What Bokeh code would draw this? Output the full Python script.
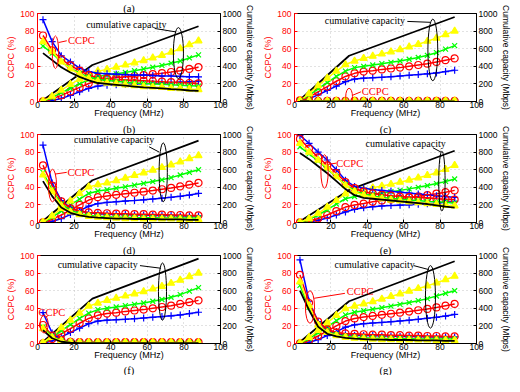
import math
from bokeh.plotting import figure
from bokeh.models import Range1d, LinearAxis, Label, Title
from bokeh.layouts import column, row
from bokeh.embed import file_html
from bokeh.resources import INLINE

# ---------------- data ----------------
FREQ = [3, 8, 13, 18, 23, 28, 33, 38, 43, 48, 53, 58, 63, 68, 73, 78, 83, 88]
KNEE_FREQ = [2, 30, 88]
X_TICKS = [0, 20, 40, 60, 80, 100]
CCPC_TICKS = [0, 20, 40, 60, 80, 100]
CAP_TICKS = [0, 200, 400, 600, 800, 1000]
CAPTIONS = ["(b)", "(c)", "(d)", "(e)", "(f)", "(g)"]

# panel (b)
b_cap_black = [0, 415, 855]
b_cap_yellow = [5, 60, 130, 195, 255, 310, 345, 365, 390, 415, 440, 465, 495, 525, 560, 600, 645, 690]
b_cap_green = [3, 45, 100, 150, 200, 250, 285, 300, 315, 330, 350, 370, 390, 410, 435, 460, 495, 530]
b_cap_red = [2, 30, 70, 115, 160, 205, 240, 260, 270, 280, 290, 300, 310, 322, 335, 350, 370, 390]
b_cap_blue = [0, 10, 35, 70, 110, 150, 175, 185, 190, 195, 198, 202, 206, 210, 215, 220, 225, 230]
b_ccpc_blue = [93, 68, 52, 45, 38, 34, 32, 31.5, 31, 30.5, 30, 30, 29.5, 29, 29, 28.5, 28, 28]
b_ccpc_red = [75, 58, 48, 41, 35, 30, 27, 26, 25, 24.5, 24, 23.5, 23, 22.5, 22, 21.5, 21, 20.5]
b_ccpc_green = [63, 55, 45, 38, 32, 28, 25, 24, 23, 22, 21, 20.5, 20, 19.5, 19, 18.5, 18, 17.5]
b_ccpc_yellow = [68, 57, 45, 37, 31, 26, 23, 21, 20, 19, 18, 17, 16.5, 16, 15, 14.5, 14, 13.5]
b_ccpc_black = [55, 47, 39, 33, 28, 24, 21, 20, 19, 18, 17, 16, 15.5, 15, 14, 13.5, 12.5, 12]

# panel (c)
c_cap_black = [0, 520, 960]
c_cap_yellow = [8, 90, 180, 265, 345, 420, 460, 490, 515, 540, 565, 590, 620, 650, 685, 720, 760, 800]
c_cap_green = [5, 70, 145, 215, 285, 345, 385, 400, 415, 430, 445, 460, 480, 500, 525, 555, 595, 635]
c_cap_red = [3, 50, 110, 170, 230, 285, 320, 340, 350, 365, 375, 385, 400, 415, 430, 450, 470, 490]
c_cap_blue = [0, 30, 75, 125, 175, 225, 255, 265, 270, 275, 282, 290, 298, 306, 315, 325, 340, 355]
c_ccpc_blue = [1.5, 0.8, 0.6, 0.6, 0.6, 0.6, 0.6, 0.6, 0.6, 0.6, 0.6, 0.6, 0.6, 0.6, 0.6, 0.6, 0.6, 0.6]
c_ccpc_red = [1.2, 0.8, 0.7, 0.7, 0.7, 0.7, 0.7, 0.7, 0.7, 0.7, 0.7, 0.7, 0.7, 0.7, 0.7, 0.7, 0.7, 0.7]
c_ccpc_green = [1.0, 0.6, 0.5, 0.5, 0.5, 0.5, 0.5, 0.5, 0.5, 0.5, 0.5, 0.5, 0.5, 0.5, 0.5, 0.5, 0.5, 0.5]
c_ccpc_yellow = [1.0, 0.7, 0.7, 0.7, 0.7, 0.7, 0.7, 0.7, 0.7, 0.7, 0.7, 0.7, 0.7, 0.7, 0.7, 0.7, 0.7, 0.7]
c_ccpc_black = [0.5, 0.3, 0.2, 0.2, 0.2, 0.2, 0.2, 0.2, 0.2, 0.2, 0.2, 0.2, 0.2, 0.2, 0.2, 0.2, 0.2, 0.2]

# panel (d)
d_cap_black = [0, 480, 930]
d_cap_yellow = [5, 75, 160, 245, 330, 405, 430, 450, 475, 505, 535, 565, 595, 625, 655, 690, 725, 760]
d_cap_green = [3, 60, 130, 200, 265, 330, 358, 373, 390, 405, 425, 445, 465, 485, 510, 540, 570, 600]
d_cap_red = [2, 35, 85, 140, 200, 255, 288, 302, 314, 326, 338, 350, 363, 378, 393, 410, 430, 450]
d_cap_blue = [0, 12, 45, 90, 135, 185, 215, 228, 236, 243, 250, 258, 267, 276, 286, 298, 312, 330]
d_ccpc_blue = [88, 45, 25, 17, 13, 11, 10, 9.5, 9, 9, 8.5, 8.5, 8, 8, 8, 7.5, 7.5, 7.5]
d_ccpc_red = [65, 42, 24, 16, 13, 11.5, 11, 10.5, 10, 10, 9.5, 9.5, 9, 9, 8.5, 8.5, 8, 8]
d_ccpc_green = [57, 37, 21, 14, 10, 8, 7, 6.5, 6, 6, 5.5, 5.5, 5.5, 5, 5, 5, 5, 5]
d_ccpc_yellow = [54, 35, 19, 12, 9, 7, 6, 5.5, 5, 4.5, 4.5, 4, 4, 4, 4, 3.5, 3.5, 3.5]
d_ccpc_black = [47, 30, 17, 11, 8, 6.5, 5.5, 5, 4.5, 4.5, 4, 4, 4, 3.5, 3.5, 3.5, 3, 3]

# panel (e)
e_cap_black = [0, 370, 815]
e_cap_yellow = [3, 45, 105, 175, 250, 325, 358, 375, 395, 415, 435, 458, 482, 508, 535, 565, 605, 650]
e_cap_green = [2, 35, 85, 145, 210, 270, 295, 310, 322, 335, 350, 365, 382, 400, 420, 442, 467, 495]
e_cap_red = [1, 15, 45, 85, 130, 175, 200, 215, 235, 250, 262, 272, 285, 298, 312, 328, 345, 365]
e_cap_blue = [0, 5, 25, 50, 85, 120, 150, 168, 180, 188, 193, 197, 201, 206, 212, 220, 230, 240]
e_ccpc_blue = [99, 90, 80, 71, 60, 48, 41, 39, 37.5, 36.5, 35.5, 34.5, 33.5, 32.5, 31.5, 30.5, 29.5, 28.5]
e_ccpc_red = [95, 84, 74, 65, 56, 46, 39, 35, 33, 31.5, 30.5, 29.5, 29, 28.5, 28, 27, 26.5, 26]
e_ccpc_green = [86, 78, 70, 61, 52, 43, 36, 32, 30, 28.5, 27.5, 26.5, 25.5, 25, 24, 23.5, 23, 22]
e_ccpc_yellow = [90, 80, 71, 62, 52, 42, 35, 31, 29, 27, 25.5, 24.5, 23.5, 22.5, 21.5, 20.5, 19.5, 19]
e_ccpc_black = [79, 72, 64, 56, 47, 38, 31, 28, 27, 26, 25, 24, 23, 22, 21, 19.5, 18, 17]

# panel (f)
f_cap_black = [0, 510, 965]
f_cap_yellow = [8, 90, 180, 265, 345, 425, 460, 490, 515, 540, 565, 590, 620, 650, 685, 720, 760, 800]
f_cap_green = [5, 70, 145, 215, 285, 345, 385, 400, 415, 430, 445, 460, 480, 500, 525, 555, 595, 635]
f_cap_red = [3, 50, 110, 170, 230, 285, 320, 340, 350, 365, 375, 385, 400, 415, 430, 450, 470, 490]
f_cap_blue = [0, 30, 75, 125, 175, 225, 255, 265, 270, 275, 282, 290, 298, 306, 315, 325, 340, 355]
f_ccpc_blue = [35, 12, 4, 2.5, 2, 1.5, 1.5, 1.5, 1, 1, 1, 1, 1, 1, 1, 1, 1, 1]
f_ccpc_red = [21, 9, 3.5, 2, 1.5, 1.5, 1.5, 1.5, 1.5, 1.5, 1.5, 1.5, 1.5, 1.5, 1.5, 1.5, 1.5, 1.5]
f_ccpc_green = [19, 8, 3, 1.5, 1, 1, 1, 1, 1, 1, 1, 1, 1, 1, 1, 1, 1, 1]
f_ccpc_yellow = [17, 7, 3, 1.5, 1.2, 1.2, 1.2, 1.2, 1.2, 1.2, 1.2, 1.2, 1.2, 1.2, 1.2, 1.2, 1.2, 1.2]
f_ccpc_black = [15, 6, 2, 1, 0.5, 0.5, 0.5, 0.5, 0.5, 0.5, 0.5, 0.5, 0.5, 0.5, 0.5, 0.5, 0.5, 0.5]

# panel (g)
g_cap_black = [0, 480, 935]
g_cap_yellow = [5, 70, 150, 235, 320, 395, 425, 450, 475, 505, 535, 565, 595, 625, 655, 690, 725, 765]
g_cap_green = [3, 55, 120, 190, 260, 325, 355, 372, 390, 407, 425, 445, 465, 487, 510, 540, 570, 600]
g_cap_red = [2, 35, 85, 140, 200, 255, 285, 300, 313, 326, 338, 350, 363, 378, 393, 410, 430, 450]
g_cap_blue = [0, 12, 45, 90, 135, 185, 212, 225, 233, 240, 248, 256, 265, 275, 286, 298, 312, 330]
g_ccpc_blue = [95, 48, 25, 15, 11, 10, 9.5, 9, 9, 8.5, 8.5, 8, 8, 8, 7.5, 7.5, 7.5, 7.5]
g_ccpc_red = [78, 46, 25, 16, 12.5, 11.5, 11, 10.5, 10, 10, 9.5, 9.5, 9, 9, 8.5, 8.5, 8, 8]
g_ccpc_green = [66, 41, 21, 13, 10, 8, 7, 6.5, 6, 6, 5.5, 5.5, 5.5, 5, 5, 5, 5, 5]
g_ccpc_yellow = [70, 43, 21, 12.5, 9, 7, 6, 5.5, 5, 4.5, 4.5, 4, 4, 4, 4, 3.5, 3.5, 3.5]
g_ccpc_black = [60, 38, 19, 11, 8, 6.5, 5.5, 5, 4.5, 4.5, 4, 4, 4, 3.5, 3.5, 3.5, 3, 3]

PANEL_DATA = [
    dict(cap_black=b_cap_black, cap=dict(blue=b_cap_blue, red=b_cap_red, green=b_cap_green, yellow=b_cap_yellow),
         ccpc=dict(blue=b_ccpc_blue, red=b_ccpc_red, green=b_ccpc_green, yellow=b_ccpc_yellow), ccpc_black=b_ccpc_black),
    dict(cap_black=c_cap_black, cap=dict(blue=c_cap_blue, red=c_cap_red, green=c_cap_green, yellow=c_cap_yellow),
         ccpc=dict(blue=c_ccpc_blue, red=c_ccpc_red, green=c_ccpc_green, yellow=c_ccpc_yellow), ccpc_black=c_ccpc_black),
    dict(cap_black=d_cap_black, cap=dict(blue=d_cap_blue, red=d_cap_red, green=d_cap_green, yellow=d_cap_yellow),
         ccpc=dict(blue=d_ccpc_blue, red=d_ccpc_red, green=d_ccpc_green, yellow=d_ccpc_yellow), ccpc_black=d_ccpc_black),
    dict(cap_black=e_cap_black, cap=dict(blue=e_cap_blue, red=e_cap_red, green=e_cap_green, yellow=e_cap_yellow),
         ccpc=dict(blue=e_ccpc_blue, red=e_ccpc_red, green=e_ccpc_green, yellow=e_ccpc_yellow), ccpc_black=e_ccpc_black),
    dict(cap_black=f_cap_black, cap=dict(blue=f_cap_blue, red=f_cap_red, green=f_cap_green, yellow=f_cap_yellow),
         ccpc=dict(blue=f_ccpc_blue, red=f_ccpc_red, green=f_ccpc_green, yellow=f_ccpc_yellow), ccpc_black=f_ccpc_black),
    dict(cap_black=g_cap_black, cap=dict(blue=g_cap_blue, red=g_cap_red, green=g_cap_green, yellow=g_cap_yellow),
         ccpc=dict(blue=g_ccpc_blue, red=g_ccpc_red, green=g_ccpc_green, yellow=g_ccpc_yellow), ccpc_black=g_ccpc_black),
]

# ---------------- styles / annotation placement ----------------
COLORS = dict(blue="#0000ff", red="#ff0000", green="#00ff00", yellow="#ffff00")
MARKERS = dict(blue="cross", red="circle", green="x", yellow="triangle")
ORDER = ["blue", "red", "green", "yellow"]

# (text x, text y, leader x0,y0,x1,y1, ellipse cx,cy,w,h)
ANN_CUM = [
    (26.6, 88, 64, 83, 75.8, 79, 77, 55, 5.5, 58),
    (16.6, 92.5, 62, 91, 74.5, 90, 76, 58.6, 5.4, 70),
    (20, 94, 61, 86, 66.5, 80, 68.7, 57, 4.5, 67),
    (39, 89.8, 76, 85, 80.5, 80, 81, 47, 3.5, 68),
    (11, 89.6, 56, 88.5, 67.5, 85.5, 68.3, 59, 4.4, 65),
    (22, 90, 65.5, 88.5, 73.8, 84, 74.7, 53, 5.5, 71),
]
ANN_CCPC = [
    (16.6, 69, 16, 69, 11.5, 67, 9.8, 56, 3.5, 37),
    (37, 11, 31.8, 7, 36.5, 11, 30, 5.5, 3.7, 19),
    (16.4, 57, 9.5, 55, 16, 57, 8.2, 42, 4.4, 37),
    (23, 67.5, 18.5, 66, 23, 67.5, 16.5, 58, 4.0, 38),
    (0.5, 35, 4.5, 30, 6, 32, 3.6, 22, 4.4, 20),
    (28.7, 59, 10.8, 51.4, 27.7, 57, 8.5, 41.5, 5, 37),
]
CAPTION_OFFSET = [-9, 0, -9, -7, -16, -14]

# frame height, min border top, min border bottom
ROW_GEOM = [(88, 12, 18), (88, 14, 18), (88, 14, 32)]
# frame width, min border left, min border right
COL_GEOM = [(183, 37, 32), (182, 36, 34)]

SANS = "Liberation Sans"
SERIF = "Liberation Serif"


def style_axis(ax, color="black"):
    ax.major_tick_out = 0
    ax.major_tick_in = 3
    ax.minor_tick_out = 0
    ax.minor_tick_in = 0
    ax.major_label_standoff = 3
    ax.major_label_text_font = SANS
    ax.major_label_text_font_size = "8.5px"
    ax.major_label_text_color = color
    ax.major_tick_line_color = color
    ax.axis_line_color = color
    ax.axis_label_text_font = SANS
    ax.axis_label_text_font_size = "9px"
    ax.axis_label_text_font_style = "normal"
    ax.axis_label_text_color = color
    ax.axis_label_standoff = 1


def make_caption(text, offset):
    return Title(text=text, align="center", offset=offset, standoff=0,
                 text_font=SERIF, text_font_size="10.5px", text_font_style="normal",
                 text_color="black")


def make_panel(i):
    r, c = divmod(i, 2)
    fh, bt, bb = ROW_GEOM[r]
    fw, bl, br = COL_GEOM[c]
    d = PANEL_DATA[i]

    p = figure(frame_width=fw, frame_height=fh, x_range=Range1d(0, 100), y_range=Range1d(0, 100),
               output_backend="svg", toolbar_location=None,
               min_border_left=bl, min_border_right=br, min_border_top=bt, min_border_bottom=bb)
    p.extra_y_ranges = {"cap": Range1d(0, 1000)}
    p.outline_line_color = "black"
    p.outline_line_width = 1

    p.xaxis.ticker = X_TICKS
    p.yaxis.ticker = CCPC_TICKS
    style_axis(p.xaxis[0])
    p.xaxis.major_label_standoff = 0
    p.xaxis.axis_label = "Frequency (MHz)"
    p.xaxis.axis_label_standoff = -3
    style_axis(p.yaxis[0], "#ff0000")
    p.yaxis.axis_label = "CCPC (%)"

    ax2 = LinearAxis(y_range_name="cap", ticker=CAP_TICKS, axis_label="Cumulative capacity (Mbps)")
    style_axis(ax2)
    ax2.major_label_standoff = 2
    ax2.axis_label_standoff = 1
    ax2.axis_label_text_font_size = "8.5px"
    p.add_layout(ax2, "right")

    p.xgrid.ticker = X_TICKS
    p.ygrid.ticker = CCPC_TICKS
    p.grid.grid_line_color = "#c4c4c4"
    p.grid.grid_line_dash = "1 3"
    p.grid.grid_line_width = 1

    # capacity curves
    p.line(KNEE_FREQ, d["cap_black"], y_range_name="cap", line_color="black", line_width=1.8)
    for k in ORDER:
        col = COLORS[k]
        p.line(FREQ, d["cap"][k], y_range_name="cap", line_color=col, line_width=1.5)
        p.scatter(FREQ, d["cap"][k], y_range_name="cap", marker=MARKERS[k], size=7,
                  line_color=col, line_width=1.2,
                  fill_color=(col if k == "yellow" else None))
    # CCPC curves
    for k in ORDER:
        col = COLORS[k]
        p.line(FREQ, d["ccpc"][k], line_color=col, line_width=1.5)
        p.scatter(FREQ, d["ccpc"][k], marker=MARKERS[k], size=7,
                  line_color=col, line_width=1.2,
                  fill_color=(col if k == "yellow" else None))
    p.line(FREQ, d["ccpc_black"], line_color="black", line_width=1.8)

    # annotations
    tx, ty, x0, y0, x1, y1, ex, ey, ew, eh = ANN_CUM[i]
    p.add_layout(Label(x=tx, y=ty, text="cumulative capacity", text_font=SERIF,
                       text_font_size="10px", text_color="black", text_baseline="middle"))
    p.segment(x0=[x0], y0=[y0], x1=[x1], y1=[y1], line_color="black", line_width=1)
    p.ellipse(x=[ex], y=[ey], width=[ew], height=[eh], fill_color=None, line_color="black", line_width=1)

    tx, ty, x0, y0, x1, y1, ex, ey, ew, eh = ANN_CCPC[i]
    p.add_layout(Label(x=tx, y=ty, text="CCPC", text_font=SERIF,
                       text_font_size="10.5px", text_color="#ff0000", text_baseline="middle"))
    p.segment(x0=[x0], y0=[y0], x1=[x1], y1=[y1], line_color="#ff0000", line_width=1)
    p.ellipse(x=[ex], y=[ey], width=[ew], height=[eh], fill_color=None, line_color="#ff0000", line_width=1)

    # captions: (a) above first panel, (b)..(e) above the panel below, (f),(g) below
    if i == 0:
        p.add_layout(make_caption("(a)", -4), "above")
    if i >= 2:
        p.add_layout(make_caption(CAPTIONS[i - 2], CAPTION_OFFSET[i - 2]), "above")
    if i >= 4:
        p.add_layout(make_caption(CAPTIONS[i], CAPTION_OFFSET[i]), "below")
    return p


panels = [make_panel(i) for i in range(6)]
layout = column(row(panels[0], panels[1]), row(panels[2], panels[3]), row(panels[4], panels[5]))

open("out.html", "w").write(file_html(layout, INLINE))
